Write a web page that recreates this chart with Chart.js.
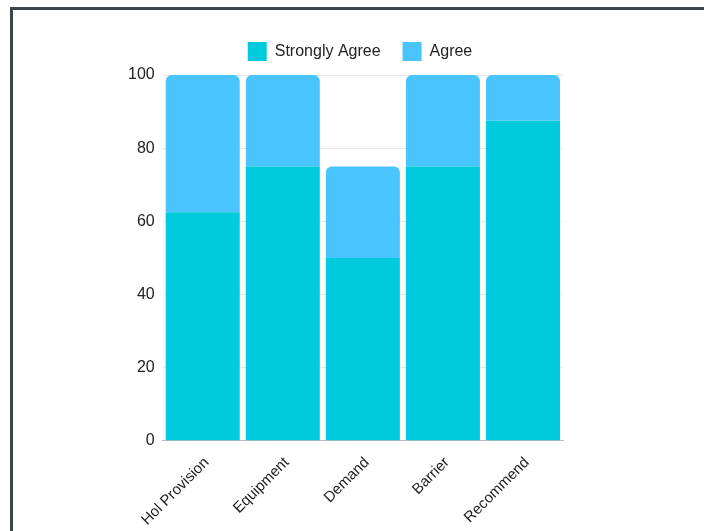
<!DOCTYPE html>
<html>
<head>
<meta charset="utf-8">
<script src="https://cdn.jsdelivr.net/npm/chart.js@4"></script>
<style>
    body { margin: 0; background: #fff; overflow: hidden; }
    #frame { position: absolute; left: 10px; top: 7px; width: 720px; height: 560px; border: 3px solid #3c4349; }
    #wrap { position: absolute; left: 14px; top: 11px; width: 692px; height: 520px; }
</style>
</head>
<body>
<div id="frame"></div>
<div id="wrap"><canvas id="chart"></canvas></div>
<script>
const categories = ['Hol Provision', 'Equipment', 'Demand', 'Barrier', 'Recommend'];
const stronglyAgree = [62.5, 75, 50, 75, 87.5];
const agree = [37.5, 25, 25, 25, 12.5];
const yTicks = [0, 20, 40, 60, 80, 100];

// legend block a bit taller, and centred over the bars rather than the whole canvas
const legendTweak = {
    id: 'legendTweak',
    beforeInit(chart) {
        const fit = chart.legend.fit;
        chart.legend.fit = function () {
            fit.bind(chart.legend)();
            this.height += 4;
        };
    },
    afterLayout(chart) {
        chart.legend.left += 37;
    }
};

const ctx = document.getElementById('chart').getContext('2d');
new Chart(ctx, {
    type: 'bar',
    data: {
        labels: categories,
        datasets: [{
            label: 'Strongly Agree',
            data: stronglyAgree,
            backgroundColor: 'rgb(0, 203, 221)',
            borderWidth: 0
        }, {
            label: 'Agree',
            data: agree,
            backgroundColor: 'rgb(74, 196, 255)',
            borderWidth: 0,
            borderRadius: { topLeft: 6, topRight: 6, bottomLeft: 0, bottomRight: 0 },
            borderSkipped: false
        }]
    },
    options: {
        responsive: true,
        maintainAspectRatio: false,
        animation: false,
        datasets: { bar: { categoryPercentage: 1, barPercentage: 0.925 } },
        layout: { padding: { left: 106, right: 143, top: 9, bottom: -3 } },
        plugins: {
            legend: {
                labels: {
                    boxWidth: 19,
                    boxHeight: 19,
                    padding: 22,
                    color: '#222',
                    font: { family: 'Liberation Sans', size: 16 }
                }
            },
            tooltip: { enabled: false }
        },
        scales: {
            x: {
                stacked: true,
                grid: { display: false },
                border: { display: true, color: '#bbb' },
                ticks: {
                    color: '#222',
                    minRotation: 45,
                    maxRotation: 45,
                    padding: 5,
                    labelOffset: 4,
                    font: { family: 'Liberation Sans', size: 15 }
                }
            },
            y: {
                stacked: true,
                min: 0,
                max: 100,
                afterBuildTicks: function (axis) {
                    axis.ticks = yTicks.map(v => ({ value: v }));
                },
                grid: { color: '#e6e6e6', drawTicks: false },
                border: { display: false },
                ticks: {
                    color: '#222',
                    padding: 8,
                    font: { family: 'Liberation Sans', size: 16 }
                }
            }
        }
    },
    plugins: [legendTweak]
});
</script>
</body>
</html>
